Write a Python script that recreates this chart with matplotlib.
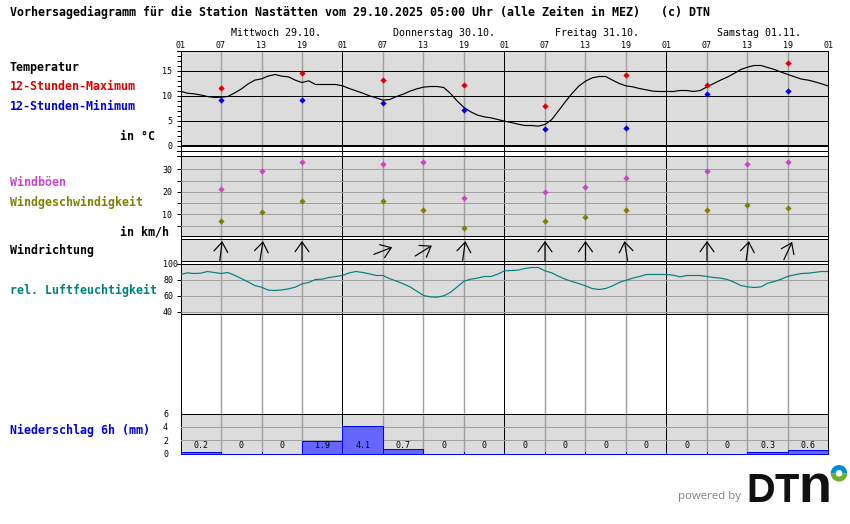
import math
import matplotlib
matplotlib.use("Agg")
import matplotlib.pyplot as plt
from matplotlib.patches import Wedge
from matplotlib.transforms import offset_copy

# ---------- data ----------
hours = list(range(97))
temperature = [10.87,10.47,10.33,10.1,9.8,9.6,9.67,9.8,10.5,11.3,12.3,13.07,13.33,13.9,14.2,13.87,13.73,13.07,12.6,12.93,
               12.2,12.2,12.2,12.2,11.93,11.4,10.93,10.47,9.93,9.53,9.07,9.2,9.8,10.27,10.87,11.33,11.67,11.8,11.8,11.6,
               10.4,8.87,7.6,6.73,6.07,5.73,5.53,5.2,4.87,4.6,4.27,4.0,4.0,3.87,4.2,5.2,6.93,8.73,10.4,11.87,
               12.87,13.53,13.8,13.8,13.07,12.4,11.93,11.73,11.4,11.13,10.87,10.8,10.8,10.8,11.0,11.0,10.8,11.0,11.73,12.4,
               13.07,13.67,14.4,15.2,15.67,16.0,16.0,15.6,15.2,14.67,14.2,13.73,13.27,13.07,12.73,12.33,11.87]
humidity = [86.25,88.3,87.5,87.9,90,88.75,87.5,88.75,85.4,81.25,77,72.5,70.4,66.7,66.25,67,68.3,70.4,74.6,76.25,
            80,80.4,82.5,83.75,85,88.3,90,88.75,87,85,85,81,78,74.6,70.8,65.4,60,58.3,57.9,59.6,
            64,70.8,77.9,80.4,81.7,83.75,83.75,86.7,90.8,91.25,91.7,93.75,95,95,90.8,88.3,84,80.4,77.5,75,
            72,68.75,67.5,68.75,72,76.25,79,81.7,83.75,86.25,86.25,86.25,86.25,85.4,83.3,85,85,85,83.75,82.5,
            81.7,80,76.7,72.5,70.8,70,70.8,75.4,77.5,80.4,84,85.8,87.5,87.9,89,90,90]
obs_hours = [6,18,30,42,54,66,78,90]
temp_max = [11.6,14.6,13.2,12.2,8.0,14.2,12.2,16.6]
temp_min = [9.2,9.2,8.6,7.2,3.4,3.6,10.4,11.0]
wind_hours = [6,12,18,30,36,42,54,60,66,78,84,90]
gusts = [21.1,29.1,33.1,32.2,33.1,17.1,19.8,22.0,26.0,29.1,32.2,33.1]
wind_speed = [6.9,10.9,15.8,15.8,11.8,3.8,6.9,8.7,11.8,11.8,14.0,12.7]
wind_dir = [7,9,0,69,58,8,0,0,-9,0,8,25]   # degrees the arrow points to, clockwise from up
precip_centres = [3,9,15,21,27,33,39,45,51,57,63,69,75,81,87,93]
precip = [0.2,0,0,1.9,4.1,0.7,0,0,0,0,0,0,0,0,0.3,0.6]
hour_ticks = list(range(0,97,6))
hour_labels = ["01","07","13","19"]*4 + ["01"]
day_starts = [7.5,31.5,55.5,79.5]
day_labels = ["Mittwoch 29.10.","Donnerstag 30.10.","Freitag 31.10.","Samstag 01.11."]
title = "Vorhersagediagramm für die Station Nastätten vom 29.10.2025 05:00 Uhr (alle Zeiten in MEZ)   (c) DTN"

# ---------- layout ----------
W,H = 850,524
L,R = 180.5,828.5
GREY="#dcdcdc"; GRID="#a0a0a0"
MONO="DejaVu Sans Mono"
PX=0.72
MS=3.2
fig = plt.figure(figsize=(8.5,5.24),dpi=100,facecolor="white")

def box(top,bottom,left=L,right=R):
    return [left/W,1-bottom/H,(right-left)/W,(bottom-top)/H]

# base layer: panel fills, frames, vertical lines (y in pixels)
base = fig.add_axes(box(50.5,453.5),zorder=1)
base.set_xlim(0,96); base.set_ylim(453.5,50.5); base.axis("off")
for top,bottom in [(50.5,145.5),(155.5,235.5),(238.5,260.5),(263.5,313.5),(413.5,453.5)]:
    base.axhspan(top,bottom,color=GREY,lw=0,zorder=0)
tick_x = -4/((R-L)/96)
for y,x0 in [(50.5,tick_x),(150.5,tick_x),(155.5,tick_x),(235.5,0),(238.5,0),(260.5,0),(263.5,tick_x),(313.5,0),(413.5,0)]:
    base.hlines(y,x0,96,color="k",lw=PX,clip_on=False,antialiased=False,zorder=3)
for h in hour_ticks:
    is_day = h%24==0
    base.vlines(h,50.5,453.5,color="k" if is_day else GRID,lw=PX if is_day else 1.05,
                clip_on=False,antialiased=not is_day,zorder=3 if is_day else 2)

def panel(top,bottom,ylim):
    ax = fig.add_axes(box(top,bottom),zorder=2)
    ax.patch.set_visible(False)
    for s in ax.spines.values(): s.set_visible(False)
    ax.set_xlim(0,96); ax.set_ylim(*ylim); ax.set_xticks([])
    ax.tick_params(axis="y",length=4*PX,width=PX,labelsize=6,pad=3.2,
                   labelfontfamily=MONO)
    return ax

# temperature
a = panel(50.5,150.5,(-1,19))
a.set_yticks([0,5,10,15])
a.set_yticks(range(-1,20),minor=True)
a.tick_params(axis="y",which="minor",length=4*PX,width=PX)
a.hlines([5,10,15],0,96,color="k",lw=PX,antialiased=False)
a.hlines(0,0,96,color="k",lw=2*PX,antialiased=False)
a.plot(hours,temperature,color="k",lw=0.85)
a.plot(obs_hours,temp_max,ls="",marker="D",ms=MS,mew=0,color="#e00000")
a.plot(obs_hours,temp_min,ls="",marker="D",ms=MS,mew=0,color="#0000e0")

# wind
a = panel(155.5,235.5,(10-21/2.25,10+58.8/2.25))
a.set_yticks([5,10,15,20,25,30])
a.set_yticklabels(["","10","","20","","30"])
a.hlines([5,10,15,20,25,30],0,96,color=GRID,lw=PX,antialiased=False,zorder=1)
a.plot(wind_hours,gusts,ls="",marker="D",ms=MS,mew=0,color="#cc44cc",zorder=3)
a.plot(wind_hours,wind_speed,ls="",marker="D",ms=MS,mew=0,color="#808000",zorder=3)

# wind direction
a = panel(238.5,260.5,(0,1))
a.set_yticks([])
half = 9.8*PX
for h,d in zip(wind_hours,wind_dir):
    dx = half*math.sin(math.radians(d)); dy = half*math.cos(math.radians(d))
    a.annotate("",xy=(h,0.44),xycoords=offset_copy(a.transData,fig=fig,x=dx,y=dy,units="points"),
               xytext=(h,0.44),textcoords=offset_copy(a.transData,fig=fig,x=-dx,y=-dy,units="points"),
               arrowprops=dict(arrowstyle="->,head_length=7,head_width=5",mutation_scale=1,
                               shrinkA=0,shrinkB=0,lw=0.85,color="k"))

# humidity
a = panel(263.5,313.5,(37.5,100))
a.set_yticks([40,60,80,100])
a.tick_params(axis="y",pad=9.7)
for t in a.get_yticklabels(): t.set_ha("left")
a.hlines([40,60,80],0,96,color=GRID,lw=PX,antialiased=False,zorder=1)
a.plot(hours,humidity,color="#008080",lw=0.85,zorder=3)

# precipitation
a = panel(413.5,453.5,(0,6))
a.set_yticks([0,2,4,6])
a.tick_params(axis="y",length=0,pad=12.6)
for t in a.get_yticklabels(): t.set_ha("left")
a.hlines([2,4],0,96,color=GRID,lw=PX,antialiased=False,zorder=1)
a.bar(precip_centres,precip,width=6,facecolor="#6666ff",edgecolor="#0000ff",lw=PX,
      clip_on=False,zorder=2)
a.vlines(hour_ticks,0,0.25,color="#0000ff",lw=PX,antialiased=False,zorder=3)
for c,v in zip(precip_centres,precip):
    a.text(c,1.27,"0" if v==0 else f"{v:.1f}",ha="center",va="center",fontsize=6,family=MONO,zorder=4)

# text and logo layer, in pixel coordinates
o = fig.add_axes([0,0,1,1],zorder=3)
o.set_xlim(0,W); o.set_ylim(H,0); o.axis("off")
BOLD = 7/0.602*PX
def label(x,y,s,color="k"):
    o.text(x,y,s,color=color,family=MONO,fontweight="bold",fontsize=BOLD,ha="left",va="center")
label(10,12,title)
for x,y,s,c in [(10,67,"Temperatur","k"),(10,87,"12-Stunden-Maximum","#e00000"),(10,107,"12-Stunden-Minimum","#0000e0"),
                (120,137,"in °C","k"),(10,182,"Windböen","#cc44cc"),(10,202,"Windgeschwindigkeit","#808000"),
                (120,232,"in km/h","k"),(10,250,"Windrichtung","k"),(10,290,"rel. Luftfeuchtigkeit","#008080"),
                (10,430,"Niederschlag 6h (mm)","#0000e0")]:
    label(x,y,s,c)
px_per_h = (R-L)/96
for h,s in zip(hour_ticks,hour_labels):
    o.text(L+h*px_per_h,45,s,ha="center",va="center",family=MONO,fontsize=6)
for h,s in zip(day_starts,day_labels):
    o.text(L+h*px_per_h,33,s,ha="left",va="center",family=MONO,fontsize=6/0.602*PX)

o.text(678,497,"powered by",color="#808080",family="Open Sans",fontsize=8.2,ha="left",va="center")
for x,s,size in [(746,"D",28.6),(775,"T",28.6),(798,"n",39)]:
    o.text(x,501.7,s,color="#111111",family="Liberation Sans",fontweight="bold",fontsize=size,ha="left",va="baseline")
o.add_patch(Wedge((839,473.3),8.3,0,180,width=5,color="#70b030",lw=0))
o.add_patch(Wedge((839,473.3),8.3,180,360,width=5,color="#0090d0",lw=0))
o.hlines(523.5,0,W,color="#eeeeee",lw=PX)

fig.savefig("out.png",dpi=100)
